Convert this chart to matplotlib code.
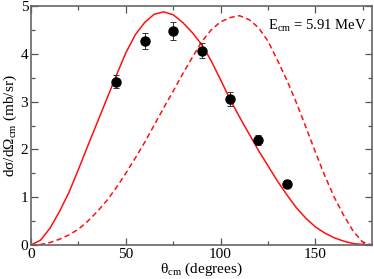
import matplotlib
matplotlib.use("Agg")
import matplotlib.pyplot as plt
from matplotlib.ticker import MultipleLocator

plt.rcParams["font.family"] = ["Liberation Serif", "DejaVu Serif"]
plt.rcParams["mathtext.fontset"] = "custom"
plt.rcParams["mathtext.rm"] = "Liberation Serif"
plt.rcParams["mathtext.it"] = "Liberation Serif:italic"

# measured points
theta_data = [45, 60, 75, 90, 105, 120, 135]
xs_data = [3.42, 4.27, 4.48, 4.07, 3.06, 2.20, 1.28]
xs_err = [0.14, 0.17, 0.18, 0.16, 0.15, 0.11, 0.07]

# curves read at 5 degree steps
theta_curve = list(range(0, 181, 5))
solid_curve = [0.0, 0.10, 0.35, 0.70, 1.10, 1.58, 2.08, 2.57, 3.06, 3.55, 4.02,
               4.40, 4.66, 4.83, 4.88, 4.82, 4.66, 4.45, 4.20, 3.86, 3.46, 3.05,
               2.68, 2.33, 1.98, 1.66, 1.34, 1.05, 0.78, 0.56, 0.38, 0.25, 0.15,
               0.08, 0.03, 0.01, 0.0]
dashed_curve = [0.0, 0.01, 0.05, 0.12, 0.21, 0.33, 0.50, 0.70, 0.93, 1.20, 1.50,
                1.82, 2.15, 2.51, 2.87, 3.22, 3.58, 3.92, 4.25, 4.50, 4.67, 4.76,
                4.80, 4.72, 4.55, 4.27, 3.87, 3.45, 2.98, 2.47, 1.95, 1.45, 1.00,
                0.62, 0.29, 0.06, 0.0]

fig = plt.figure(figsize=(3.74, 2.79), dpi=100)
ax = fig.add_axes([0.083, 0.122, 0.912, 0.856])

ax.plot(theta_curve, solid_curve, color="#ff1010", lw=1.1)
ax.plot(theta_curve, dashed_curve, color="#ff1010", lw=1.1, ls=(0, (3.5, 2.2)))
ax.errorbar(theta_data, xs_data, yerr=xs_err, fmt="o", color="black", ms=6.5,
            ecolor="#333333", elinewidth=0.7, capsize=2.5, capthick=0.7)

ax.set_xlim(0, 180)
ax.set_ylim(0, 5)
ax.xaxis.set_major_locator(MultipleLocator(50))
ax.xaxis.set_minor_locator(MultipleLocator(25))
ax.yaxis.set_major_locator(MultipleLocator(1))
ax.yaxis.set_minor_locator(MultipleLocator(0.5))
ax.tick_params(which="both", direction="in", top=True, right=True,
               colors="#555555", labelcolor="black", labelsize=11, pad=2)
ax.tick_params(which="major", length=5, width=0.9)
ax.tick_params(which="minor", length=3, width=0.9)
for sp in ax.spines.values():
    sp.set_color("#666666")
    sp.set_linewidth(1.2)

ax.set_xlabel(r"θ$_{\rm cm}$ (degrees)", fontsize=11, labelpad=0)
ax.set_ylabel(r"dσ/dΩ$_{\rm cm}$ (mb/sr)", fontsize=11, labelpad=1)
ax.text(0.985, 0.915, r"E$_{\rm cm}$ = 5.91 MeV", transform=ax.transAxes,
        ha="right", va="center", fontsize=10.5)

fig.savefig("out.png", dpi=100)
